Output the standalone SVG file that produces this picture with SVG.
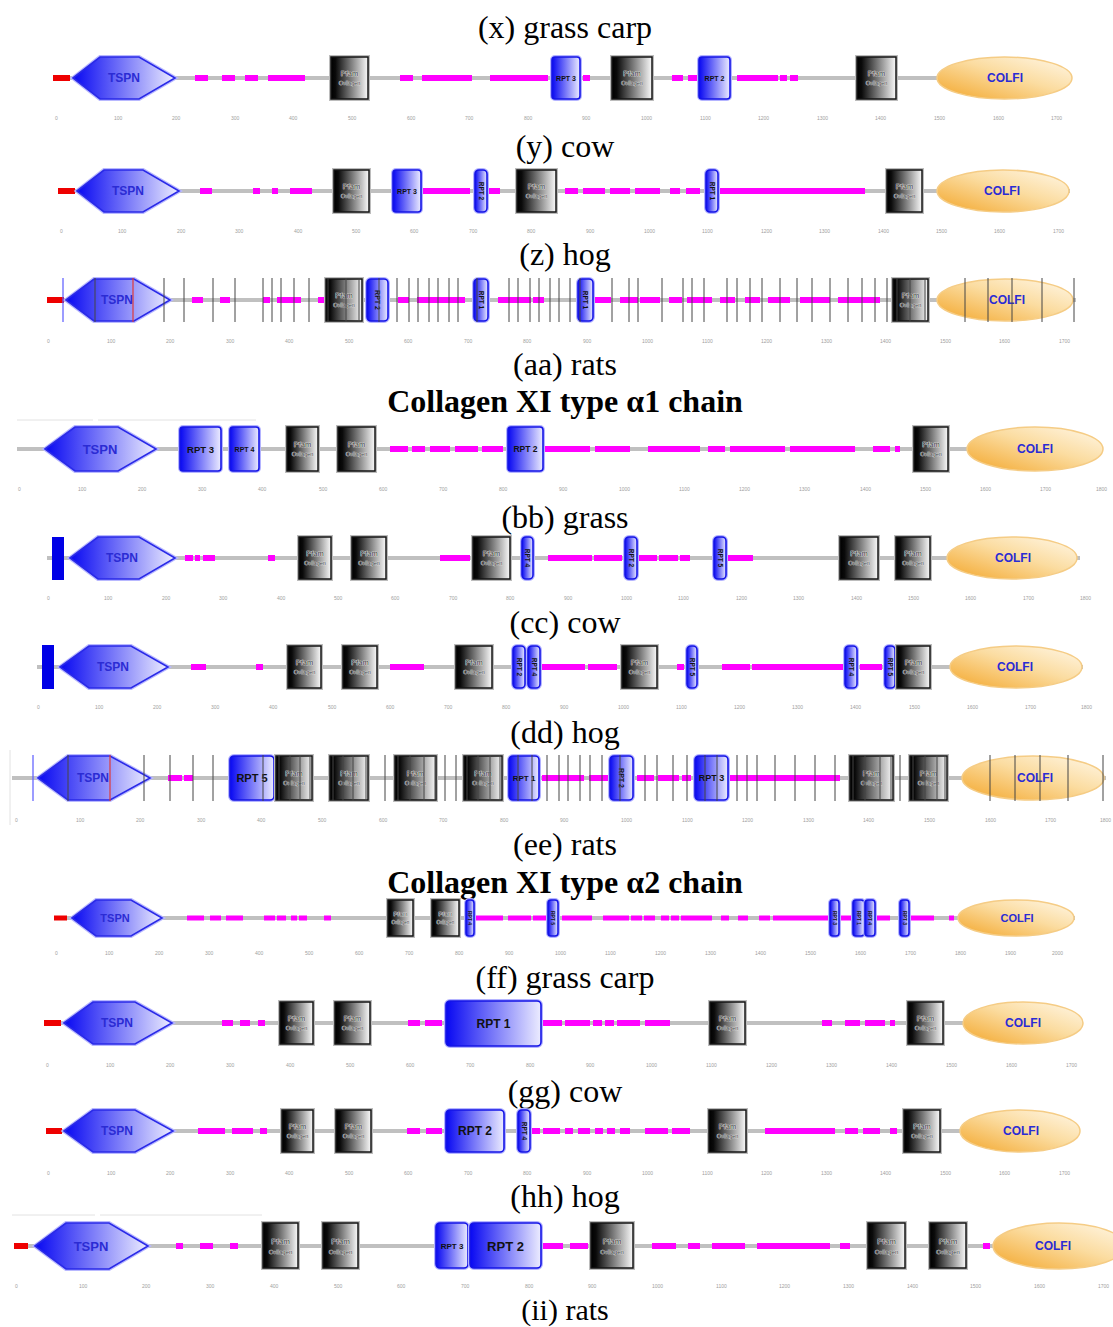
<svg xmlns="http://www.w3.org/2000/svg" width="1113" height="1327" viewBox="0 0 1113 1327">
<defs>
<linearGradient id="gB" x1="0" y1="0" x2="1" y2="0"><stop offset="0" stop-color="#0808f2"/><stop offset="1" stop-color="#ececff"/></linearGradient>
<linearGradient id="gP" x1="0" y1="0" x2="1" y2="0"><stop offset="0" stop-color="#000"/><stop offset="0.12" stop-color="#0a0a0a"/><stop offset="1" stop-color="#fafafa"/></linearGradient>
<linearGradient id="gO" x1="0" y1="1" x2="1" y2="0"><stop offset="0" stop-color="#f3a62a"/><stop offset="0.55" stop-color="#fbdca0"/><stop offset="1" stop-color="#fff8ea"/></linearGradient>
<style>
.t{font-family:"Liberation Serif","Times New Roman",serif;font-size:32px;fill:#000;text-anchor:middle}
.h{font-family:"Liberation Serif","Times New Roman",serif;font-size:32px;font-weight:bold;fill:#000;text-anchor:middle}
.bb{stroke:#c0c0c0;stroke-width:4;fill:none}
.mg{stroke:#ff00ff;stroke-width:6;fill:none}
.rd{fill:#ee0000}
.bl{fill:#0000e6}
.ts{fill:url(#gB);stroke:#2a2ae8;stroke-width:1.6}
.tsh{fill:none;stroke:#b8b8ff;stroke-width:4}
.pfh{fill:none;stroke:#bcbcbc;stroke-width:4}
.pf{fill:url(#gP);stroke:#151515;stroke-width:1.5}
.rh{fill:none;stroke:#b4b4ff;stroke-width:4}
.rpt{fill:url(#gB);stroke:#1414e6;stroke-width:1.6}
.co{fill:url(#gO);stroke:#f5cc85;stroke-width:1.5}
.td{font-family:"Liberation Sans",Arial,sans-serif;font-weight:bold;font-size:12px;fill:#2b2bd4;text-anchor:middle}
.tp{font-family:"Liberation Sans",Arial,sans-serif;font-size:7.5px;fill:#333;text-anchor:middle;stroke:#f4f4f4;stroke-width:.7;paint-order:stroke}
.tc{font-family:"Liberation Sans",Arial,sans-serif;font-size:5.5px;fill:#333;text-anchor:middle;stroke:#f4f4f4;stroke-width:.5;paint-order:stroke}
.tr{font-family:"Liberation Sans",Arial,sans-serif;font-weight:bold;font-size:8px;fill:#111;text-anchor:middle}
.tv{font-family:"Liberation Sans",Arial,sans-serif;font-weight:bold;font-size:6.5px;fill:#111;text-anchor:middle;dominant-baseline:central}
.ax{font-family:"Liberation Sans",Arial,sans-serif;font-size:5px;fill:#a0a0a0}
.vl{stroke:#444;stroke-width:1;fill:none}
.vb{stroke:#5a5aff;stroke-width:1.2;fill:none}
.vr{stroke:#e03a3a;stroke-width:1.2;fill:none}
.fa{stroke:#e2e2e2;stroke-width:1;fill:none}
</style>
</defs>
<rect width="1113" height="1327" fill="#fff"/>

<g id="titles">
<text class="t" x="565" y="38">(x) grass carp</text>
<text class="t" x="565" y="157">(y) cow</text>
<text class="t" x="565" y="265">(z) hog</text>
<text class="t" x="565" y="375">(aa) rats</text>
<text class="h" x="565" y="412">Collagen XI type α1 chain</text>
<text class="t" x="565" y="528">(bb) grass</text>
<text class="t" x="565" y="633">(cc) cow</text>
<text class="t" x="565" y="743">(dd) hog</text>
<text class="t" x="565" y="855">(ee) rats</text>
<text class="h" x="565" y="893">Collagen XI type α2 chain</text>
<text class="t" x="565" y="988">(ff) grass carp</text>
<text class="t" x="565" y="1102">(gg) cow</text>
<text class="t" x="565" y="1207">(hh) hog</text>
<text class="t" style="font-size:30px" x="565" y="1320">(ii) rats</text>
</g>

<g id="connectors">
<path class="fa" d="M17 420H93M98 420H256M12 1215H95M100 1215H262M10 750V825"/>
<path class="bb" d="M53 78H1070M58 191H1070M47 300H1076M17 449H1103M47 558H1080M37 667H1083M12 778H1106M54 918H1075M44 1023H1083M46 1131H1080M14 1246H1113"/>
<path class="mg" d="M195 78H208M222 78H235M245 78H258M268 78H305M400 78H413M422 78H472M490 78H548M583 78H590M672 78H683M688 78H697M737 78H778M780 78H787M790 78H798"/>
<path class="mg" d="M200 191H212M253 191H260M272 191H278M290 191H312M423 191H470M489 191H500M565 191H578M583 191H605M610 191H630M635 191H660M670 191H680M686 191H700M720 191H865"/>
<path class="mg" d="M192 300H203M220 300H230M263 300H270M277 300H301M318 300H325M398 300H409M417 300H465M498 300H531M533 300H544M595 300H611M620 300H638M640 300H660M669 300H682M687 300H712M720 300H735M745 300H760M768 300H790M800 300H830M838 300H880"/>
<path class="mg" d="M390 449H408M412 449H425M430 449H450M455 449H478M482 449H503M545 449H590M595 449H630M648 449H700M708 449H725M730 449H785M790 449H855M873 449H890M895 449H900"/>
<path class="mg" d="M185 558H193M195 558H200M203 558H215M268 558H275M440 558H470M548 558H592M594 558H622M639 558H657M659 558H678M680 558H690M726 558H753"/>
<path class="mg" d="M191 667H206M256 667H263M390 667H424M542 667H585M588 667H617M677 667H684M722 667H750M752 667H843M860 667H882"/>
<path class="mg" d="M168 778H182M184 778H193M542 778H584M589 778H608M637 778H654M658 778H679M682 778H691M729 778H840"/>
<path class="mg" style="stroke-width:5" d="M187 918H204M210 918H221M226 918H243M264 918H275M277 918H286M291 918H297M299 918H307M324 918H331M475 918H503M508 918H531M533 918H546M562 918H592M603 918H629M631 918H642M644 918H655M661 918H669M671 918H679M681 918H712M721 918H729M738 918H748M759 918H770M773 918H829M841 918H852M876 918H890M910 918H934M949 918H954"/>
<path class="mg" d="M222 1023H233M240 1023H250M258 1023H265M408 1023H420M425 1023H442M543 1023H562M565 1023H590M593 1023H602M605 1023H614M617 1023H640M645 1023H670M822 1023H832M845 1023H860M865 1023H885M890 1023H895"/>
<path class="mg" d="M198 1131H225M232 1131H253M260 1131H267M407 1131H420M426 1131H442M532 1131H540M543 1131H560M565 1131H573M578 1131H590M595 1131H603M607 1131H615M620 1131H630M645 1131H668M672 1131H690M765 1131H835M845 1131H858M863 1131H880M890 1131H897"/>
<path class="mg" d="M176 1246H183M200 1246H213M230 1246H238M543 1246H563M570 1246H588M652 1246H676M688 1246H700M712 1246H745M757 1246H830M840 1246H850M983 1246H990"/>
</g>

<!-- Row x -->
<g id="row-x">
<rect class="rd" x="53" y="75" width="17" height="6"/>
<g id="x-tspn"><polygon class="tsh" points="73,78 100,57 139,57 175,78 139,99 100,99"/><polygon class="ts" points="73,78 100,57 139,57 175,78 139,99 100,99"/><text class="td" x="124" y="82">TSPN</text></g>
<g id="x-pfam1"><rect class="pfh" x="331" y="57" width="37" height="42"/><rect class="pf" x="331" y="57" width="37" height="42"/><text class="tp" x="349.5" y="76">Pfam</text><text class="tc" x="349.5" y="85">Collagen</text></g>
<g id="x-rpt3"><rect class="rh" x="552" y="57" width="28" height="42" rx="3"/><rect class="rpt" x="552" y="57" width="28" height="42" rx="3"/><text class="tr" style="font-size:7px" x="566" y="81">RPT 3</text></g>
<g id="x-pfam2"><rect class="pfh" x="612" y="57" width="40" height="42"/><rect class="pf" x="612" y="57" width="40" height="42"/><text class="tp" x="632" y="76">Pfam</text><text class="tc" x="632" y="85">Collagen</text></g>
<g id="x-rpt2"><rect class="rh" x="699" y="57" width="31" height="42" rx="3"/><rect class="rpt" x="699" y="57" width="31" height="42" rx="3"/><text class="tr" style="font-size:7px" x="714.5" y="81">RPT 2</text></g>
<g id="x-pfam3"><rect class="pfh" x="857" y="57" width="39" height="42"/><rect class="pf" x="857" y="57" width="39" height="42"/><text class="tp" x="876.5" y="76">Pfam</text><text class="tc" x="876.5" y="85">Collagen</text></g>
<g id="x-colfi"><ellipse class="co" cx="1004.5" cy="78" rx="67.5" ry="21"/><text class="td" x="1005" y="82">COLFI</text></g>
<text class="ax" y="120"><tspan x="55">0</tspan><tspan x="114">100</tspan><tspan x="172">200</tspan><tspan x="231">300</tspan><tspan x="289">400</tspan><tspan x="348">500</tspan><tspan x="407">600</tspan><tspan x="465">700</tspan><tspan x="524">800</tspan><tspan x="582">900</tspan><tspan x="641">1000</tspan><tspan x="700">1100</tspan><tspan x="758">1200</tspan><tspan x="817">1300</tspan><tspan x="875">1400</tspan><tspan x="934">1500</tspan><tspan x="993">1600</tspan><tspan x="1051">1700</tspan></text>
</g>

<!-- Row y -->
<g id="row-y">
<rect class="rd" x="58" y="188" width="17" height="6"/>
<g id="y-tspn"><polygon class="tsh" points="77,191 104,170 143,170 179,191 143,212 104,212"/><polygon class="ts" points="77,191 104,170 143,170 179,191 143,212 104,212"/><text class="td" x="128" y="195">TSPN</text></g>
<g id="y-pfam1"><rect class="pfh" x="334" y="170" width="35" height="42"/><rect class="pf" x="334" y="170" width="35" height="42"/><text class="tp" x="351.5" y="189">Pfam</text><text class="tc" x="351.5" y="198">Collagen</text></g>
<g id="y-rpt3"><rect class="rh" x="393" y="170" width="28" height="42" rx="3"/><rect class="rpt" x="393" y="170" width="28" height="42" rx="3"/><text class="tr" style="font-size:7px" x="407" y="194">RPT 3</text></g>
<g id="y-rpt2"><rect class="rh" x="475" y="170" width="12" height="42" rx="4"/><rect class="rpt" x="475" y="170" width="12" height="42" rx="4"/><text class="tv" transform="translate(481 191) rotate(90)">RPT 2</text></g>
<g id="y-pfam2"><rect class="pfh" x="517" y="170" width="39" height="42"/><rect class="pf" x="517" y="170" width="39" height="42"/><text class="tp" x="536.5" y="189">Pfam</text><text class="tc" x="536.5" y="198">Collagen</text></g>
<g id="y-rpt1"><rect class="rh" x="706" y="170" width="12" height="42" rx="4"/><rect class="rpt" x="706" y="170" width="12" height="42" rx="4"/><text class="tv" transform="translate(712 191) rotate(90)">RPT 1</text></g>
<g id="y-pfam3"><rect class="pfh" x="887" y="170" width="35" height="42"/><rect class="pf" x="887" y="170" width="35" height="42"/><text class="tp" x="904.5" y="189">Pfam</text><text class="tc" x="904.5" y="198">Collagen</text></g>
<g id="y-colfi"><ellipse class="co" cx="1003" cy="191" rx="66" ry="21"/><text class="td" x="1002" y="195">COLFI</text></g>
<text class="ax" y="233"><tspan x="60">0</tspan><tspan x="118">100</tspan><tspan x="177">200</tspan><tspan x="235">300</tspan><tspan x="294">400</tspan><tspan x="352">500</tspan><tspan x="410">600</tspan><tspan x="469">700</tspan><tspan x="527">800</tspan><tspan x="586">900</tspan><tspan x="644">1000</tspan><tspan x="702">1100</tspan><tspan x="761">1200</tspan><tspan x="819">1300</tspan><tspan x="878">1400</tspan><tspan x="936">1500</tspan><tspan x="994">1600</tspan><tspan x="1053">1700</tspan></text>
</g>

<!-- Row z -->
<g id="row-z">
<rect class="rd" x="47" y="297" width="17" height="6"/>
<g id="z-tspn"><polygon class="tsh" points="66,300 94,279 134,279 170,300 134,321 94,321"/><polygon class="ts" points="66,300 94,279 134,279 170,300 134,321 94,321"/><text class="td" x="117" y="304">TSPN</text></g>
<g id="z-pfam1"><rect class="pfh" x="326" y="279" width="36" height="42"/><rect class="pf" x="326" y="279" width="36" height="42"/><text class="tp" x="344" y="298">Pfam</text><text class="tc" x="344" y="307">Collagen</text></g>
<g id="z-rpt2"><rect class="rh" x="367" y="279" width="21" height="42" rx="4"/><rect class="rpt" x="367" y="279" width="21" height="42" rx="4"/><text class="tv" style="font-size:7px" transform="translate(377.5 300) rotate(90)">RPT 2</text></g>
<g id="z-rpt1a"><rect class="rh" x="474" y="279" width="14" height="42" rx="4"/><rect class="rpt" x="474" y="279" width="14" height="42" rx="4"/><text class="tv" transform="translate(481 300) rotate(90)">RPT 1</text></g>
<g id="z-rpt1b"><rect class="rh" x="578" y="279" width="15" height="42" rx="4"/><rect class="rpt" x="578" y="279" width="15" height="42" rx="4"/><text class="tv" transform="translate(585.5 300) rotate(90)">RPT 1</text></g>
<g id="z-pfam2"><rect class="pfh" x="893" y="279" width="35" height="42"/><rect class="pf" x="893" y="279" width="35" height="42"/><text class="tp" x="910.5" y="298">Pfam</text><text class="tc" x="910.5" y="307">Collagen</text></g>
<g id="z-colfi"><ellipse class="co" cx="1005" cy="300" rx="68" ry="21"/><text class="td" x="1007" y="304">COLFI</text></g>
<path class="vb" d="M63 278V322"/>
<path class="vr" d="M133 278V322"/>
<path class="vl" d="M95 278V322M164 278V322M184 278V322M213 278V322M235 278V322M263 278V322M272 278V322M281 278V322M294 278V322M309 278V322M328 278V322M346 278V322M359 278V322M379 278V322M397 278V322M409 278V322M418 278V322M429 278V322M438 278V322M449 278V322M458 278V322M477 278V322M509 278V322M518 278V322M530 278V322M539 278V322M550 278V322M559 278V322M570 278V322M580 278V322M612 278V322M629 278V322M638 278V322M662 278V322M683 278V322M692 278V322M704 278V322M727 278V322M737 278V322M750 278V322M762 278V322M780 278V322M797 278V322M812 278V322M830 278V322M848 278V322M862 278V322M875 278V322M887 278V322M897 278V322M910 278V322M925 278V322M965 278V322M988 278V322M1012 278V322M1042 278V322M1074 278V322"/>
<text class="ax" y="343"><tspan x="47">0</tspan><tspan x="107">100</tspan><tspan x="166">200</tspan><tspan x="226">300</tspan><tspan x="285">400</tspan><tspan x="345">500</tspan><tspan x="404">600</tspan><tspan x="464">700</tspan><tspan x="523">800</tspan><tspan x="583">900</tspan><tspan x="642">1000</tspan><tspan x="702">1100</tspan><tspan x="761">1200</tspan><tspan x="821">1300</tspan><tspan x="880">1400</tspan><tspan x="940">1500</tspan><tspan x="999">1600</tspan><tspan x="1059">1700</tspan></text>
</g>

<!-- Row aa -->
<g id="row-aa">
<g id="aa-tspn"><polygon class="tsh" points="45,449 75,427 118,427 156,449 118,471 75,471"/><polygon class="ts" points="45,449 75,427 118,427 156,449 118,471 75,471"/><text class="td" style="font-size:13px" x="100" y="454">TSPN</text></g>
<g id="aa-rpt3"><rect class="rh" x="180" y="427" width="41" height="44" rx="3"/><rect class="rpt" x="180" y="427" width="41" height="44" rx="3"/><text class="tr" style="font-size:9.5px" x="200.5" y="453">RPT 3</text></g>
<g id="aa-rpt4"><rect class="rh" x="230" y="427" width="29" height="44" rx="3"/><rect class="rpt" x="230" y="427" width="29" height="44" rx="3"/><text class="tr" style="font-size:7px" x="244.5" y="452">RPT 4</text></g>
<g id="aa-pfam1"><rect class="pfh" x="287" y="427" width="31" height="44"/><rect class="pf" x="287" y="427" width="31" height="44"/><text class="tp" x="302.5" y="447">Pfam</text><text class="tc" x="302.5" y="456">Collagen</text></g>
<g id="aa-pfam2"><rect class="pfh" x="338" y="427" width="37" height="44"/><rect class="pf" x="338" y="427" width="37" height="44"/><text class="tp" x="356.5" y="447">Pfam</text><text class="tc" x="356.5" y="456">Collagen</text></g>
<g id="aa-rpt2"><rect class="rh" x="508" y="427" width="35" height="44" rx="3"/><rect class="rpt" x="508" y="427" width="35" height="44" rx="3"/><text class="tr" style="font-size:8.5px" x="525.5" y="452">RPT 2</text></g>
<g id="aa-pfam3"><rect class="pfh" x="914" y="427" width="34" height="44"/><rect class="pf" x="914" y="427" width="34" height="44"/><text class="tp" x="931" y="447">Pfam</text><text class="tc" x="931" y="456">Collagen</text></g>
<g id="aa-colfi"><ellipse class="co" cx="1035" cy="449" rx="68" ry="22"/><text class="td" x="1035" y="453">COLFI</text></g>
<text class="ax" y="491"><tspan x="18">0</tspan><tspan x="78">100</tspan><tspan x="138">200</tspan><tspan x="198">300</tspan><tspan x="258">400</tspan><tspan x="319">500</tspan><tspan x="379">600</tspan><tspan x="439">700</tspan><tspan x="499">800</tspan><tspan x="559">900</tspan><tspan x="619">1000</tspan><tspan x="679">1100</tspan><tspan x="739">1200</tspan><tspan x="799">1300</tspan><tspan x="860">1400</tspan><tspan x="920">1500</tspan><tspan x="980">1600</tspan><tspan x="1040">1700</tspan><tspan x="1096">1800</tspan></text>
</g>

<!-- Row bb -->
<g id="row-bb">
<rect class="bl" x="52" y="537" width="12" height="43"/>
<g id="bb-tspn"><polygon class="tsh" points="70,558 98,537 139,537 175,558 139,579 98,579"/><polygon class="ts" points="70,558 98,537 139,537 175,558 139,579 98,579"/><text class="td" x="122" y="562">TSPN</text></g>
<g id="bb-pfam1"><rect class="pfh" x="299" y="537" width="32" height="42"/><rect class="pf" x="299" y="537" width="32" height="42"/><text class="tp" x="315" y="556">Pfam</text><text class="tc" x="315" y="565">Collagen</text></g>
<g id="bb-pfam2"><rect class="pfh" x="352" y="537" width="34" height="42"/><rect class="pf" x="352" y="537" width="34" height="42"/><text class="tp" x="369" y="556">Pfam</text><text class="tc" x="369" y="565">Collagen</text></g>
<g id="bb-pfam3"><rect class="pfh" x="473" y="537" width="37" height="42"/><rect class="pf" x="473" y="537" width="37" height="42"/><text class="tp" x="491.5" y="556">Pfam</text><text class="tc" x="491.5" y="565">Collagen</text></g>
<g id="bb-rpt4"><rect class="rh" x="522" y="537" width="11" height="42" rx="4"/><rect class="rpt" x="522" y="537" width="11" height="42" rx="4"/><text class="tv" transform="translate(527.5 558) rotate(90)">RPT 4</text></g>
<g id="bb-rpt2"><rect class="rh" x="625" y="537" width="12" height="42" rx="4"/><rect class="rpt" x="625" y="537" width="12" height="42" rx="4"/><text class="tv" transform="translate(631 558) rotate(90)">RPT 2</text></g>
<g id="bb-rpt5"><rect class="rh" x="714" y="537" width="12" height="42" rx="4"/><rect class="rpt" x="714" y="537" width="12" height="42" rx="4"/><text class="tv" transform="translate(720 558) rotate(90)">RPT 5</text></g>
<g id="bb-pfam4"><rect class="pfh" x="840" y="537" width="38" height="42"/><rect class="pf" x="840" y="537" width="38" height="42"/><text class="tp" x="859" y="556">Pfam</text><text class="tc" x="859" y="565">Collagen</text></g>
<g id="bb-pfam5"><rect class="pfh" x="896" y="537" width="34" height="42"/><rect class="pf" x="896" y="537" width="34" height="42"/><text class="tp" x="913" y="556">Pfam</text><text class="tc" x="913" y="565">Collagen</text></g>
<g id="bb-colfi"><ellipse class="co" cx="1012" cy="558" rx="65" ry="21"/><text class="td" x="1013" y="562">COLFI</text></g>
<text class="ax" y="600"><tspan x="47">0</tspan><tspan x="104">100</tspan><tspan x="162">200</tspan><tspan x="219">300</tspan><tspan x="277">400</tspan><tspan x="334">500</tspan><tspan x="391">600</tspan><tspan x="449">700</tspan><tspan x="506">800</tspan><tspan x="564">900</tspan><tspan x="621">1000</tspan><tspan x="678">1100</tspan><tspan x="736">1200</tspan><tspan x="793">1300</tspan><tspan x="851">1400</tspan><tspan x="908">1500</tspan><tspan x="965">1600</tspan><tspan x="1023">1700</tspan><tspan x="1080">1800</tspan></text>
</g>

<!-- Row cc -->
<g id="row-cc">
<rect class="bl" x="42" y="645" width="12" height="44"/>
<g id="cc-tspn"><polygon class="tsh" points="60,667 89,646 131,646 168,667 131,688 89,688"/><polygon class="ts" points="60,667 89,646 131,646 168,667 131,688 89,688"/><text class="td" x="113" y="671">TSPN</text></g>
<g id="cc-pfam1"><rect class="pfh" x="288" y="646" width="33" height="42"/><rect class="pf" x="288" y="646" width="33" height="42"/><text class="tp" x="304.5" y="665">Pfam</text><text class="tc" x="304.5" y="674">Collagen</text></g>
<g id="cc-pfam2"><rect class="pfh" x="343" y="646" width="34" height="42"/><rect class="pf" x="343" y="646" width="34" height="42"/><text class="tp" x="360" y="665">Pfam</text><text class="tc" x="360" y="674">Collagen</text></g>
<g id="cc-pfam3"><rect class="pfh" x="456" y="646" width="36" height="42"/><rect class="pf" x="456" y="646" width="36" height="42"/><text class="tp" x="474" y="665">Pfam</text><text class="tc" x="474" y="674">Collagen</text></g>
<g id="cc-rpt2"><rect class="rh" x="513" y="646" width="12" height="42" rx="4"/><rect class="rpt" x="513" y="646" width="12" height="42" rx="4"/><text class="tv" transform="translate(519 667) rotate(90)">RPT 2</text></g>
<g id="cc-rpt4a"><rect class="rh" x="528" y="646" width="12" height="42" rx="4"/><rect class="rpt" x="528" y="646" width="12" height="42" rx="4"/><text class="tv" transform="translate(534 667) rotate(90)">RPT 4</text></g>
<g id="cc-pfam4"><rect class="pfh" x="622" y="646" width="35" height="42"/><rect class="pf" x="622" y="646" width="35" height="42"/><text class="tp" x="639.5" y="665">Pfam</text><text class="tc" x="639.5" y="674">Collagen</text></g>
<g id="cc-rpt5a"><rect class="rh" x="687" y="646" width="10" height="42" rx="4"/><rect class="rpt" x="687" y="646" width="10" height="42" rx="4"/><text class="tv" transform="translate(692 667) rotate(90)">RPT 5</text></g>
<g id="cc-rpt4b"><rect class="rh" x="845" y="646" width="12" height="42" rx="4"/><rect class="rpt" x="845" y="646" width="12" height="42" rx="4"/><text class="tv" transform="translate(851 667) rotate(90)">RPT 4</text></g>
<g id="cc-rpt5b"><rect class="rh" x="885" y="646" width="10" height="42" rx="4"/><rect class="rpt" x="885" y="646" width="10" height="42" rx="4"/><text class="tv" transform="translate(890 667) rotate(90)">RPT 5</text></g>
<g id="cc-pfam5"><rect class="pfh" x="897" y="646" width="33" height="42"/><rect class="pf" x="897" y="646" width="33" height="42"/><text class="tp" x="913.5" y="665">Pfam</text><text class="tc" x="913.5" y="674">Collagen</text></g>
<g id="cc-colfi"><ellipse class="co" cx="1016" cy="667" rx="66" ry="21"/><text class="td" x="1015" y="671">COLFI</text></g>
<text class="ax" y="709"><tspan x="37">0</tspan><tspan x="95">100</tspan><tspan x="153">200</tspan><tspan x="211">300</tspan><tspan x="269">400</tspan><tspan x="328">500</tspan><tspan x="386">600</tspan><tspan x="444">700</tspan><tspan x="502">800</tspan><tspan x="560">900</tspan><tspan x="618">1000</tspan><tspan x="676">1100</tspan><tspan x="734">1200</tspan><tspan x="792">1300</tspan><tspan x="850">1400</tspan><tspan x="909">1500</tspan><tspan x="967">1600</tspan><tspan x="1025">1700</tspan><tspan x="1081">1800</tspan></text>
</g>

<!-- Row dd -->
<g id="row-dd">
<g id="dd-tspn"><polygon class="tsh" points="38,778 68,756 110,756 150,778 110,800 68,800"/><polygon class="ts" points="38,778 68,756 110,756 150,778 110,800 68,800"/><text class="td" x="93" y="782">TSPN</text></g>
<g id="dd-rpt5"><rect class="rh" x="230" y="756" width="44" height="44" rx="4"/><rect class="rpt" x="230" y="756" width="44" height="44" rx="4"/><text class="tr" style="font-size:11px" x="252" y="782">RPT 5</text></g>
<g id="dd-pfam1"><rect class="pfh" x="276" y="756" width="36" height="44"/><rect class="pf" x="276" y="756" width="36" height="44"/><text class="tp" x="294" y="776">Pfam</text><text class="tc" x="294" y="785">Collagen</text></g>
<g id="dd-pfam2"><rect class="pfh" x="330" y="756" width="38" height="44"/><rect class="pf" x="330" y="756" width="38" height="44"/><text class="tp" x="349" y="776">Pfam</text><text class="tc" x="349" y="785">Collagen</text></g>
<g id="dd-pfam3"><rect class="pfh" x="395" y="756" width="41" height="44"/><rect class="pf" x="395" y="756" width="41" height="44"/><text class="tp" x="415.5" y="776">Pfam</text><text class="tc" x="415.5" y="785">Collagen</text></g>
<g id="dd-pfam4"><rect class="pfh" x="464" y="756" width="38" height="44"/><rect class="pf" x="464" y="756" width="38" height="44"/><text class="tp" x="483" y="776">Pfam</text><text class="tc" x="483" y="785">Collagen</text></g>
<g id="dd-rpt1"><rect class="rh" x="509" y="756" width="30" height="44" rx="4"/><rect class="rpt" x="509" y="756" width="30" height="44" rx="4"/><text class="tr" x="524" y="781">RPT 1</text></g>
<g id="dd-rpt2"><rect class="rh" x="610" y="756" width="23" height="44" rx="4"/><rect class="rpt" x="610" y="756" width="23" height="44" rx="4"/><text class="tv" style="font-size:7px" transform="translate(621.5 778) rotate(90)">RPT 2</text></g>
<g id="dd-rpt3"><rect class="rh" x="695" y="756" width="33" height="44" rx="4"/><rect class="rpt" x="695" y="756" width="33" height="44" rx="4"/><text class="tr" style="font-size:9px" x="711.5" y="781">RPT 3</text></g>
<g id="dd-pfam5"><rect class="pfh" x="850" y="756" width="43" height="44"/><rect class="pf" x="850" y="756" width="43" height="44"/><text class="tp" x="871.5" y="776">Pfam</text><text class="tc" x="871.5" y="785">Collagen</text></g>
<g id="dd-pfam6"><rect class="pfh" x="910" y="756" width="37" height="44"/><rect class="pf" x="910" y="756" width="37" height="44"/><text class="tp" x="928.5" y="776">Pfam</text><text class="tc" x="928.5" y="785">Collagen</text></g>
<g id="dd-colfi"><ellipse class="co" cx="1033" cy="778" rx="71" ry="22"/><text class="td" x="1035" y="782">COLFI</text></g>
<path class="vb" d="M33 755V801"/>
<path class="vr" d="M110 755V801"/>
<path class="vl" d="M68 755V801M144 755V801M170 755V801M193 755V801M213 755V801M263 755V801M279 755V801M290 755V801M300 755V801M310 755V801M333 755V801M343 755V801M353 755V801M366 755V801M385 755V801M398 755V801M410 755V801M424 755V801M435 755V801M445 755V801M456 755V801M467 755V801M478 755V801M490 755V801M500 755V801M518 755V801M532 755V801M547 755V801M559 755V801M568 755V801M580 755V801M590 755V801M602 755V801M620 755V801M645 755V801M657 755V801M673 755V801M687 755V801M705 755V801M717 755V801M737 755V801M747 755V801M757 755V801M775 755V801M795 755V801M815 755V801M835 755V801M853 755V801M865 755V801M880 755V801M891 755V801M900 755V801M913 755V801M925 755V801M937 755V801M945 755V801M990 755V801M1015 755V801M1040 755V801M1068 755V801M1103 755V801"/>
<text class="ax" y="822"><tspan x="15">0</tspan><tspan x="76">100</tspan><tspan x="136">200</tspan><tspan x="197">300</tspan><tspan x="257">400</tspan><tspan x="318">500</tspan><tspan x="379">600</tspan><tspan x="439">700</tspan><tspan x="500">800</tspan><tspan x="560">900</tspan><tspan x="621">1000</tspan><tspan x="682">1100</tspan><tspan x="742">1200</tspan><tspan x="803">1300</tspan><tspan x="863">1400</tspan><tspan x="924">1500</tspan><tspan x="985">1600</tspan><tspan x="1045">1700</tspan><tspan x="1100">1800</tspan></text>
</g>

<!-- Row ee -->
<g id="row-ee">
<rect class="rd" x="54" y="915.5" width="13" height="5"/>
<g id="ee-tspn"><polygon class="tsh" points="72,918 96,900 131,900 162,918 131,936 96,936"/><polygon class="ts" points="72,918 96,900 131,900 162,918 131,936 96,936"/><text class="td" style="font-size:11px" x="115" y="922">TSPN</text></g>
<g id="ee-pfam1"><rect class="pfh" x="388" y="900" width="25" height="36"/><rect class="pf" x="388" y="900" width="25" height="36"/><text class="tp" style="font-size:6px" x="400.5" y="916">Pfam</text><text class="tc" style="font-size:4.5px" x="400.5" y="924">Collagen</text></g>
<g id="ee-pfam2"><rect class="pfh" x="432" y="900" width="27" height="36"/><rect class="pf" x="432" y="900" width="27" height="36"/><text class="tp" style="font-size:6px" x="445.5" y="916">Pfam</text><text class="tc" style="font-size:4.5px" x="445.5" y="924">Collagen</text></g>
<g id="ee-rpt4a"><rect class="rh" x="466" y="900" width="8" height="36" rx="3"/><rect class="rpt" x="466" y="900" width="8" height="36" rx="3"/><text class="tv" style="font-size:5px" transform="translate(470 918) rotate(90)">RPT 4</text></g>
<g id="ee-rpt5"><rect class="rh" x="548" y="900" width="10" height="36" rx="3"/><rect class="rpt" x="548" y="900" width="10" height="36" rx="3"/><text class="tv" style="font-size:5px" transform="translate(553 918) rotate(90)">RPT 5</text></g>
<g id="ee-rpt3a"><rect class="rh" x="830" y="900" width="9" height="36" rx="3"/><rect class="rpt" x="830" y="900" width="9" height="36" rx="3"/><text class="tv" style="font-size:5px" transform="translate(834.5 918) rotate(90)">RPT 3</text></g>
<g id="ee-rpt1"><rect class="rh" x="853" y="900" width="11" height="36" rx="3"/><rect class="rpt" x="853" y="900" width="11" height="36" rx="3"/><text class="tv" style="font-size:5px" transform="translate(858.5 918) rotate(90)">RPT 1</text></g>
<g id="ee-rpt4b"><rect class="rh" x="865" y="900" width="10" height="36" rx="3"/><rect class="rpt" x="865" y="900" width="10" height="36" rx="3"/><text class="tv" style="font-size:5px" transform="translate(870 918) rotate(90)">RPT 4</text></g>
<g id="ee-rpt3b"><rect class="rh" x="900" y="900" width="9" height="36" rx="3"/><rect class="rpt" x="900" y="900" width="9" height="36" rx="3"/><text class="tv" style="font-size:5px" transform="translate(904.5 918) rotate(90)">RPT 3</text></g>
<g id="ee-colfi"><ellipse class="co" cx="1016" cy="918" rx="58" ry="18"/><text class="td" style="font-size:11px" x="1017" y="922">COLFI</text></g>
<text class="ax" y="955"><tspan x="55">0</tspan><tspan x="105">100</tspan><tspan x="155">200</tspan><tspan x="205">300</tspan><tspan x="255">400</tspan><tspan x="305">500</tspan><tspan x="355">600</tspan><tspan x="405">700</tspan><tspan x="455">800</tspan><tspan x="505">900</tspan><tspan x="555">1000</tspan><tspan x="605">1100</tspan><tspan x="655">1200</tspan><tspan x="705">1300</tspan><tspan x="755">1400</tspan><tspan x="805">1500</tspan><tspan x="855">1600</tspan><tspan x="905">1700</tspan><tspan x="955">1800</tspan><tspan x="1005">1900</tspan><tspan x="1052">2000</tspan></text>
</g>

<!-- Row ff -->
<g id="row-ff">
<rect class="rd" x="44" y="1020" width="17" height="6"/>
<g id="ff-tspn"><polygon class="tsh" points="64,1023 93,1002 135,1002 172,1023 135,1044 93,1044"/><polygon class="ts" points="64,1023 93,1002 135,1002 172,1023 135,1044 93,1044"/><text class="td" x="117" y="1027">TSPN</text></g>
<g id="ff-pfam1"><rect class="pfh" x="280" y="1002" width="33" height="42"/><rect class="pf" x="280" y="1002" width="33" height="42"/><text class="tp" x="296.5" y="1021">Pfam</text><text class="tc" x="296.5" y="1030">Collagen</text></g>
<g id="ff-pfam2"><rect class="pfh" x="335" y="1002" width="35" height="42"/><rect class="pf" x="335" y="1002" width="35" height="42"/><text class="tp" x="352.5" y="1021">Pfam</text><text class="tc" x="352.5" y="1030">Collagen</text></g>
<g id="ff-rpt1"><rect class="rh" x="446" y="1001" width="95" height="45" rx="4"/><rect class="rpt" x="446" y="1001" width="95" height="45" rx="4"/><text class="tr" style="font-size:12px" x="493.5" y="1028">RPT 1</text></g>
<g id="ff-pfam3"><rect class="pfh" x="710" y="1002" width="35" height="42"/><rect class="pf" x="710" y="1002" width="35" height="42"/><text class="tp" x="727.5" y="1021">Pfam</text><text class="tc" x="727.5" y="1030">Collagen</text></g>
<g id="ff-pfam4"><rect class="pfh" x="908" y="1002" width="35" height="42"/><rect class="pf" x="908" y="1002" width="35" height="42"/><text class="tp" x="925.5" y="1021">Pfam</text><text class="tc" x="925.5" y="1030">Collagen</text></g>
<g id="ff-colfi"><ellipse class="co" cx="1023" cy="1023" rx="60" ry="21"/><text class="td" x="1023" y="1027">COLFI</text></g>
<text class="ax" y="1067"><tspan x="46">0</tspan><tspan x="106">100</tspan><tspan x="166">200</tspan><tspan x="226">300</tspan><tspan x="286">400</tspan><tspan x="346">500</tspan><tspan x="406">600</tspan><tspan x="466">700</tspan><tspan x="526">800</tspan><tspan x="586">900</tspan><tspan x="646">1000</tspan><tspan x="706">1100</tspan><tspan x="766">1200</tspan><tspan x="826">1300</tspan><tspan x="886">1400</tspan><tspan x="946">1500</tspan><tspan x="1006">1600</tspan><tspan x="1066">1700</tspan></text>
</g>

<!-- Row gg -->
<g id="row-gg">
<rect class="rd" x="46" y="1128" width="16" height="6"/>
<g id="gg-tspn"><polygon class="tsh" points="64,1131 93,1110 135,1110 173,1131 135,1152 93,1152"/><polygon class="ts" points="64,1131 93,1110 135,1110 173,1131 135,1152 93,1152"/><text class="td" x="117" y="1135">TSPN</text></g>
<g id="gg-pfam1"><rect class="pfh" x="282" y="1110" width="31" height="42"/><rect class="pf" x="282" y="1110" width="31" height="42"/><text class="tp" x="297.5" y="1129">Pfam</text><text class="tc" x="297.5" y="1138">Collagen</text></g>
<g id="gg-pfam2"><rect class="pfh" x="336" y="1110" width="35" height="42"/><rect class="pf" x="336" y="1110" width="35" height="42"/><text class="tp" x="353.5" y="1129">Pfam</text><text class="tc" x="353.5" y="1138">Collagen</text></g>
<g id="gg-rpt2"><rect class="rh" x="446" y="1110" width="58" height="42" rx="4"/><rect class="rpt" x="446" y="1110" width="58" height="42" rx="4"/><text class="tr" style="font-size:12px" x="475" y="1135">RPT 2</text></g>
<g id="gg-rpt4"><rect class="rh" x="518" y="1110" width="12" height="42" rx="4"/><rect class="rpt" x="518" y="1110" width="12" height="42" rx="4"/><text class="tv" transform="translate(524 1131) rotate(90)">RPT 4</text></g>
<g id="gg-pfam3"><rect class="pfh" x="709" y="1110" width="37" height="42"/><rect class="pf" x="709" y="1110" width="37" height="42"/><text class="tp" x="727.5" y="1129">Pfam</text><text class="tc" x="727.5" y="1138">Collagen</text></g>
<g id="gg-pfam4"><rect class="pfh" x="904" y="1110" width="36" height="42"/><rect class="pf" x="904" y="1110" width="36" height="42"/><text class="tp" x="922" y="1129">Pfam</text><text class="tc" x="922" y="1138">Collagen</text></g>
<g id="gg-colfi"><ellipse class="co" cx="1020" cy="1131" rx="60" ry="21"/><text class="td" x="1021" y="1135">COLFI</text></g>
<text class="ax" y="1175"><tspan x="47">0</tspan><tspan x="107">100</tspan><tspan x="166">200</tspan><tspan x="226">300</tspan><tspan x="285">400</tspan><tspan x="345">500</tspan><tspan x="404">600</tspan><tspan x="464">700</tspan><tspan x="523">800</tspan><tspan x="583">900</tspan><tspan x="642">1000</tspan><tspan x="702">1100</tspan><tspan x="761">1200</tspan><tspan x="821">1300</tspan><tspan x="880">1400</tspan><tspan x="940">1500</tspan><tspan x="999">1600</tspan><tspan x="1059">1700</tspan></text>
</g>

<!-- Row hh -->
<g id="row-hh">
<rect class="rd" x="14" y="1243" width="14" height="6"/>
<g id="hh-tspn"><polygon class="tsh" points="35,1246 66,1223 109,1223 148,1246 109,1269 66,1269"/><polygon class="ts" points="35,1246 66,1223 109,1223 148,1246 109,1269 66,1269"/><text class="td" style="font-size:13px" x="91" y="1251">TSPN</text></g>
<g id="hh-pfam1"><rect class="pfh" x="263" y="1223" width="35" height="45"/><rect class="pf" x="263" y="1223" width="35" height="45"/><text class="tp" style="font-size:8px" x="280.5" y="1244">Pfam</text><text class="tc" style="font-size:6px" x="280.5" y="1254">Collagen</text></g>
<g id="hh-pfam2"><rect class="pfh" x="323" y="1223" width="35" height="45"/><rect class="pf" x="323" y="1223" width="35" height="45"/><text class="tp" style="font-size:8px" x="340.5" y="1244">Pfam</text><text class="tc" style="font-size:6px" x="340.5" y="1254">Collagen</text></g>
<g id="hh-rpt3"><rect class="rh" x="436" y="1223" width="32" height="45" rx="4"/><rect class="rpt" x="436" y="1223" width="32" height="45" rx="4"/><text class="tr" x="452" y="1249">RPT 3</text></g>
<g id="hh-rpt2"><rect class="rh" x="470" y="1223" width="71" height="45" rx="4"/><rect class="rpt" x="470" y="1223" width="71" height="45" rx="4"/><text class="tr" style="font-size:13px" x="505.5" y="1251">RPT 2</text></g>
<g id="hh-pfam3"><rect class="pfh" x="591" y="1223" width="42" height="45"/><rect class="pf" x="591" y="1223" width="42" height="45"/><text class="tp" style="font-size:8px" x="612" y="1244">Pfam</text><text class="tc" style="font-size:6px" x="612" y="1254">Collagen</text></g>
<g id="hh-pfam4"><rect class="pfh" x="868" y="1223" width="37" height="45"/><rect class="pf" x="868" y="1223" width="37" height="45"/><text class="tp" style="font-size:8px" x="886.5" y="1244">Pfam</text><text class="tc" style="font-size:6px" x="886.5" y="1254">Collagen</text></g>
<g id="hh-pfam5"><rect class="pfh" x="930" y="1223" width="36" height="45"/><rect class="pf" x="930" y="1223" width="36" height="45"/><text class="tp" style="font-size:8px" x="948" y="1244">Pfam</text><text class="tc" style="font-size:6px" x="948" y="1254">Collagen</text></g>
<g id="hh-colfi"><ellipse class="co" cx="1059" cy="1246" rx="66" ry="23"/><text class="td" x="1053" y="1250">COLFI</text></g>
<text class="ax" y="1288"><tspan x="15">0</tspan><tspan x="79">100</tspan><tspan x="142">200</tspan><tspan x="206">300</tspan><tspan x="270">400</tspan><tspan x="334">500</tspan><tspan x="397">600</tspan><tspan x="461">700</tspan><tspan x="525">800</tspan><tspan x="588">900</tspan><tspan x="652">1000</tspan><tspan x="716">1100</tspan><tspan x="779">1200</tspan><tspan x="843">1300</tspan><tspan x="907">1400</tspan><tspan x="970">1500</tspan><tspan x="1034">1600</tspan><tspan x="1098">1700</tspan></text>
</g>
</svg>
